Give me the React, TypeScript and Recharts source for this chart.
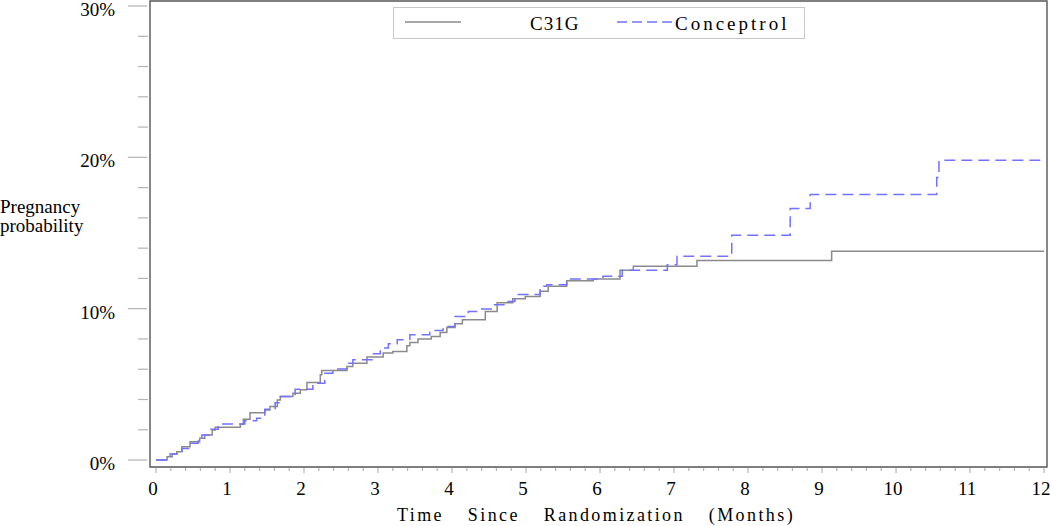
import { LineChart, Line, XAxis, YAxis, ReferenceArea, Legend, Label } from 'recharts';

// Kaplan-Meier style cumulative pregnancy probability (%)
const c31gMonths = [0, 0.15, 0.22, 0.28, 0.35, 0.46, 0.59, 0.66, 0.76, 0.8, 1.14, 1.18, 1.27, 1.47, 1.54, 1.64, 1.68, 1.85, 1.95, 2.04, 2.22, 2.24, 2.58, 2.66, 2.85, 3.07, 3.2, 3.39, 3.43, 3.54, 3.72, 3.84, 3.93, 4.04, 4.14, 4.45, 4.61, 4.82, 4.99, 5.19, 5.3, 5.55, 5.91, 6.27, 6.45, 7.31, 9.13, 12];
const c31gPct = [0, 0.22, 0.4, 0.55, 0.88, 1.21, 1.44, 1.66, 1.99, 2.17, 2.36, 2.7, 3.13, 3.31, 3.53, 3.97, 4.19, 4.42, 4.64, 5.12, 5.63, 5.91, 6.18, 6.4, 6.8, 7.07, 7.17, 7.55, 7.77, 7.99, 8.16, 8.43, 8.76, 9.0, 9.27, 9.82, 10.4, 10.66, 10.81, 11.15, 11.48, 11.85, 11.97, 12.54, 12.8, 13.18, 13.8, 13.8];

const conceptrolMonths = [0, 0.19, 0.35, 0.46, 0.57, 0.62, 0.73, 0.84, 1.2, 1.36, 1.47, 1.61, 1.68, 1.88, 2.12, 2.28, 2.39, 2.58, 2.66, 2.92, 3.03, 3.14, 3.26, 3.43, 3.7, 3.88, 4.04, 4.22, 4.35, 4.54, 4.72, 4.85, 5.19, 5.28, 5.55, 6.04, 6.3, 6.91, 7.04, 7.78, 8.57, 8.84, 10.55, 10.58, 12];
const conceptrolPct = [0, 0.4, 0.77, 1.11, 1.37, 1.66, 2.03, 2.38, 2.6, 2.76, 3.36, 3.79, 4.19, 4.68, 5.08, 5.74, 6.01, 6.4, 6.62, 7.02, 7.4, 7.68, 7.95, 8.28, 8.56, 8.83, 9.49, 9.82, 9.98, 10.26, 10.48, 10.93, 11.48, 11.59, 11.97, 12.14, 12.54, 12.91, 13.46, 14.85, 16.62, 17.55, 18.66, 19.8, 19.8];

const seriesNames = ['C31G', 'Conceptrol'];

const xMajorTicks = [0, 1, 2, 3, 4, 5, 6, 7, 8, 9, 10, 11, 12];
const yMajorTicks = [0, 10, 20, 30];
const yTickLabels = ['0%', '10%', '20%', '30%'];

const xTicks: number[] = [];
for (let i = 0; i <= 60; i++) xTicks.push(Math.round(i * 2) / 10);
const yTicks: number[] = [];
for (let i = 0; i <= 15; i++) yTicks.push(i * 2);

const c31gData = c31gMonths.map((m, i) => ({ month: m, pct: c31gPct[i] }));
const conceptrolData = conceptrolMonths.map((m, i) => ({ month: m, pct: conceptrolPct[i] }));

const FONT = '"Liberation Serif", "Times New Roman", serif';
const TICK_GRAY = '#b4b4b4';
const C31G_COLOR = '#8a8a8a';
const CONCEPTROL_COLOR = '#7272ff';

const XTick = (props: any) => {
  const { x, y, payload } = props;
  const v = payload.value;
  const major = xMajorTicks.includes(v);
  return (
    <g>
      <line x1={x} x2={x} y1={y + 1} y2={y + (major ? 6 : 4)} stroke={TICK_GRAY} strokeWidth={1.2} />
      {major && (
        <text x={x - 3} y={y + 28} textAnchor="middle" fontFamily={FONT} fontSize={19} fill="#000">
          {v}
        </text>
      )}
    </g>
  );
};

const YTick = (props: any) => {
  const { x, y, payload } = props;
  const idx = yMajorTicks.indexOf(payload.value);
  const major = idx >= 0;
  return (
    <g>
      <line x1={major ? x - 22 : x - 12} x2={major ? x - 3 : x - 2} y1={y} y2={y} stroke={TICK_GRAY} strokeWidth={1.2} />
      {major && (
        <text x={x - 35} y={y + 10} textAnchor="end" fontFamily={FONT} fontSize={19} fill="#000">
          {yTickLabels[idx]}
        </text>
      )}
    </g>
  );
};

const LegendBox = () => (
  <svg width={412} height={32} style={{ display: 'block' }}>
    <rect x={0.5} y={0.5} width={411} height={31} fill="#fff" stroke="#c8c8c8" strokeWidth={1} />
    <line x1={12} x2={68} y1={15} y2={15} stroke={C31G_COLOR} strokeWidth={1.5} />
    <text x={137} y={23} fontFamily={FONT} fontSize={19} letterSpacing={1} fill="#000">
      {seriesNames[0]}
    </text>
    <line x1={224} x2={280} y1={15} y2={15} stroke={CONCEPTROL_COLOR} strokeWidth={1.5} strokeDasharray="10 5" />
    <text x={282} y={23} fontFamily={FONT} fontSize={19} letterSpacing={3} fill="#000">
      {seriesNames[1]}
    </text>
  </svg>
);

export default function App() {
  return (
    <div style={{ position: 'absolute', left: 0, top: 0, width: 1050, height: 526, background: '#fff' }}>
      <LineChart width={1050} height={526} margin={{ top: 1, right: 3, bottom: 0, left: 0 }}>
        <XAxis
          dataKey="month"
          type="number"
          domain={[-0.081, 12.04]}
          allowDataOverflow
          ticks={xTicks}
          interval={0}
          tick={<XTick />}
          tickLine={false}
          axisLine={false}
          tickSize={0}
          tickMargin={0}
          height={59}
        >
          <Label
            content={() => (
              <text
                x={397}
                y={521}
                fontFamily={FONT}
                fontSize={18}
                letterSpacing={2.4}
                wordSpacing={17}
                fill="#000"
              >
                Time Since Randomization (Months)
              </text>
            )}
          />
        </XAxis>
        <YAxis
          dataKey="pct"
          type="number"
          domain={[-0.46, 30.33]}
          allowDataOverflow
          ticks={yTicks}
          interval={0}
          tick={<YTick />}
          tickLine={false}
          axisLine={false}
          tickSize={0}
          tickMargin={0}
          width={150}
        >
          <Label
            content={() => (
              <text x={0} y={213} fontFamily={FONT} fontSize={19} fill="#000">
                <tspan x={0} dy={0}>Pregnancy</tspan>
                <tspan x={0} dy={19}>probability</tspan>
              </text>
            )}
          />
        </YAxis>
        <ReferenceArea x1={-0.081} x2={12.04} y1={-0.46} y2={30.33} fill="none" stroke="#555" strokeWidth={1.4} ifOverflow="visible" />
        <Legend
          layout="vertical"
          align="center"
          verticalAlign="middle"
          content={() => <LegendBox />}
          wrapperStyle={{ position: 'absolute', left: 393, top: 7, width: 412, height: 32 }}
        />
        <Line
          data={c31gData}
          dataKey="pct"
          name={seriesNames[0]}
          type="stepAfter"
          stroke={C31G_COLOR}
          strokeWidth={1.5}
          dot={false}
          isAnimationActive={false}
        />
        <Line
          data={conceptrolData}
          dataKey="pct"
          name={seriesNames[1]}
          type="stepAfter"
          stroke={CONCEPTROL_COLOR}
          strokeWidth={1.5}
          strokeDasharray="11 6"
          dot={false}
          isAnimationActive={false}
        />
      </LineChart>
    </div>
  );
}
